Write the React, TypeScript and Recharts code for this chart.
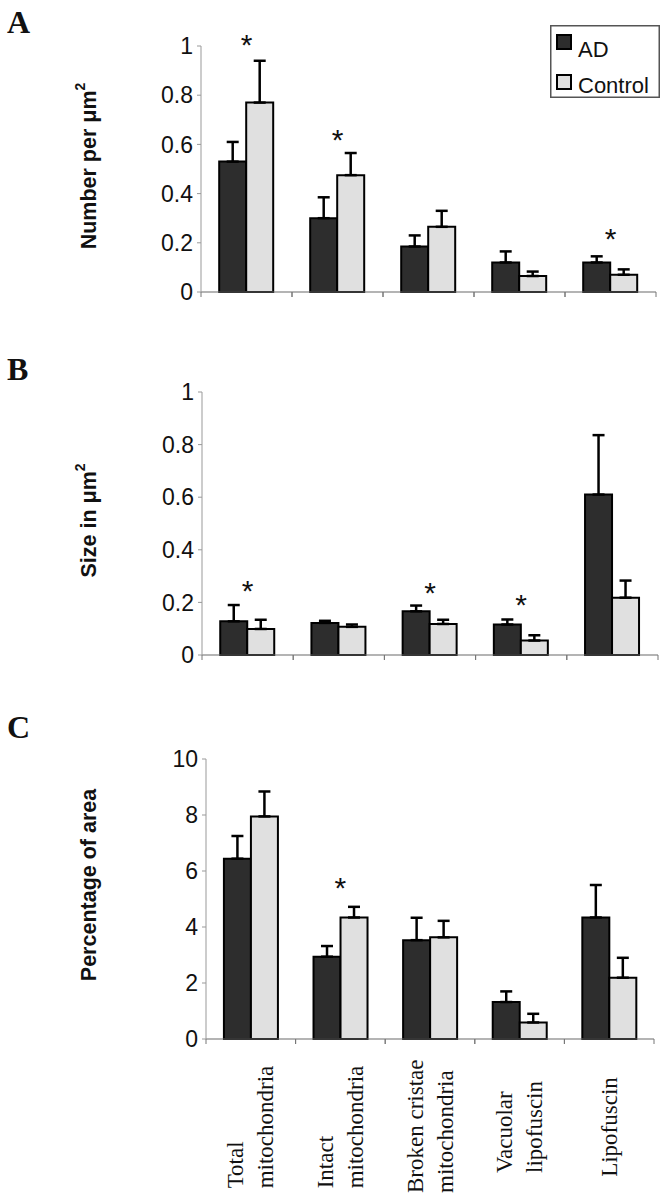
import React from 'react';
import { BarChart, Bar, XAxis, YAxis, ErrorBar, ReferenceDot, Legend } from 'recharts';

// ---------- data ----------
const categories = [
  'Total mitochondria',
  'Intact mitochondria',
  'Broken cristae mitochondria',
  'Vacuolar lipofuscin',
  'Lipofuscin',
];
const categoryLines = [
  ['Total', 'mitochondria'],
  ['Intact', 'mitochondria'],
  ['Broken cristae', 'mitochondria'],
  ['Vacuolar', 'lipofuscin'],
  ['Lipofuscin'],
];

// A: number per µm²
const numberAD = [0.53, 0.3, 0.185, 0.12, 0.12];
const numberADErr = [0.08, 0.085, 0.045, 0.045, 0.025];
const numberCtl = [0.77, 0.475, 0.265, 0.065, 0.07];
const numberCtlErr = [0.17, 0.09, 0.065, 0.018, 0.022];
const numberStars = [1.035, 0.65, null, null, 0.245];
const numberTicks = [0, 0.2, 0.4, 0.6, 0.8, 1];

// B: size in µm²
const sizeAD = [0.128, 0.122, 0.166, 0.116, 0.61];
const sizeADErr = [0.062, 0.008, 0.022, 0.019, 0.226];
const sizeCtl = [0.099, 0.107, 0.118, 0.055, 0.218];
const sizeCtlErr = [0.035, 0.009, 0.016, 0.02, 0.065];
const sizeStars = [0.27, null, 0.262, 0.217, null];
const sizeTicks = [0, 0.2, 0.4, 0.6, 0.8, 1];

// C: percentage of area
const areaAD = [6.44, 2.94, 3.53, 1.32, 4.34];
const areaADErr = [0.81, 0.38, 0.8, 0.38, 1.16];
const areaCtl = [7.95, 4.34, 3.63, 0.59, 2.19];
const areaCtlErr = [0.89, 0.38, 0.59, 0.31, 0.71];
const areaStars = [null, 5.67, null, null, null];
const areaTicks = [0, 2, 4, 6, 8, 10];

const seriesNames = ['AD', 'Control'];

// ---------- styles ----------
const AD_FILL = '#2d2d2d';
const CTL_FILL = '#e0e0e0';
const SANS = '"Liberation Sans", Arial, sans-serif';
const SERIF = '"Liberation Serif", "Times New Roman", serif';
const W = 666;

function buildRows(ad: number[], adErr: number[], ctl: number[], ctlErr: number[], stars: (number | null)[]) {
  return categories.map((name, i) => ({
    name,
    ad: ad[i],
    adErr: [0, adErr[i]],
    ctl: ctl[i],
    ctlErr: [0, ctlErr[i]],
    star: stars[i],
  }));
}

const rowsA = buildRows(numberAD, numberADErr, numberCtl, numberCtlErr, numberStars);
const rowsB = buildRows(sizeAD, sizeADErr, sizeCtl, sizeCtlErr, sizeStars);
const rowsC = buildRows(areaAD, areaADErr, areaCtl, areaCtlErr, areaStars);

let measureCtx: any = null;
function textWidth(s: string, font: string, fallbackSize: number) {
  try {
    if (!measureCtx) measureCtx = document.createElement('canvas').getContext('2d');
    measureCtx.font = font;
    return measureCtx.measureText(s).width;
  } catch (e) {
    return s.length * fallbackSize * 0.45;
  }
}

function CategoryTick(props: any) {
  const { x, y, payload, index, showLabels, fallbackHalf } = props;
  const half = payload && typeof payload.offset === 'number' && payload.offset > 3 ? payload.offset : fallbackHalf;
  const lines = categoryLines[index] || [];
  const fs = 23;
  const font = `${fs}px "Liberation Serif"`;
  const maxW = Math.max(0, ...lines.map((l) => textWidth(l, font, fs)));
  const centerY = y + 88;
  const startY = Math.min(y + 154, centerY + maxW / 2);
  const spacing = 30;
  return (
    <g>
      <line x1={x - half} x2={x - half} y1={y} y2={y + 5} stroke="#777" strokeWidth={1} />
      <line x1={x + half} x2={x + half} y1={y} y2={y + 5} stroke="#777" strokeWidth={1} />
      {showLabels &&
        lines.map((l, i) => {
          const lx = x + (i - (lines.length - 1) / 2) * spacing;
          return (
            <text
              key={i}
              x={0}
              y={0}
              transform={`translate(${lx}, ${startY}) rotate(-90)`}
              textAnchor="start"
              dominantBaseline="central"
              fontFamily={SERIF}
              fontSize={fs}
              fill="#111"
            >
              {l}
            </text>
          );
        })}
    </g>
  );
}

function makeYLabel(main: string, sup: string | null, shift: number) {
  return (props: any) => {
    const vb = props.viewBox || { x: 0, y: 0, width: 0, height: 0 };
    const cx = vb.x + 89;
    const cy = vb.y + vb.height / 2 + shift;
    return (
      <text
        x={cx}
        y={cy}
        transform={`rotate(-90 ${cx} ${cy})`}
        textAnchor="middle"
        dominantBaseline="central"
        fontFamily={SANS}
        fontWeight="bold"
        fontSize={21.5}
        fill="#111"
      >
        {main}
        {sup ? (
          <tspan dy={-9} fontSize={14}>
            {sup}
          </tspan>
        ) : null}
      </text>
    );
  };
}

function StarShape(props: any) {
  const { cx, cy } = props;
  const fs = 30;
  return (
    <text x={cx} y={cy + 0.58 * fs} textAnchor="middle" fontFamily={SANS} fontSize={fs} fill="#111">
      *
    </text>
  );
}

function LegendBox(props: any) {
  const payload = props.payload || [];
  const rows = seriesNames.map((n, i) => {
    const p = payload.find((e: any) => e.value === n);
    return { name: n, color: p ? p.color : i === 0 ? AD_FILL : CTL_FILL };
  });
  return (
    <svg width={110} height={73} style={{ display: 'block' }}>
      <rect x={0.75} y={0.75} width={108.5} height={71.5} fill="#fff" stroke="#555" strokeWidth={1.5} />
      {rows.map((r, i) => (
        <g key={r.name}>
          <rect x={7} y={i === 0 ? 10 : 50} width={14} height={14} fill={r.color} stroke="#000" strokeWidth={2} />
          <text x={28} y={i === 0 ? 31.5 : 68} fontFamily={SANS} fontSize={22} fill="#111">
            {r.name}
          </text>
        </g>
      ))}
    </svg>
  );
}

interface PanelProps {
  rows: any[];
  width: number;
  height: number;
  margin: { top: number; right: number; bottom: number; left: number };
  yWidth: number;
  yDomain: [number, number];
  yTicks: number[];
  xHeight: number;
  showLabels: boolean;
  yLabel: any;
  legend?: boolean;
}

function Panel(p: PanelProps) {
  const plotW = p.width - p.margin.left - p.margin.right - p.yWidth;
  const fallbackHalf = plotW / categories.length / 2;
  return (
    <BarChart
      width={p.width}
      height={p.height}
      data={p.rows}
      margin={p.margin}
      barCategoryGap="20%"
      barGap={0}
    >
      <XAxis
        dataKey="name"
        type="category"
        interval={0}
        height={p.xHeight}
        tickSize={0}
        tickMargin={0}
        tickLine={false}
        axisLine={{ stroke: '#6a6a6a', strokeWidth: 1.2 }}
        tick={(tp: any) => <CategoryTick {...tp} showLabels={p.showLabels} fallbackHalf={fallbackHalf} />}
      />
      <YAxis
        type="number"
        domain={p.yDomain}
        ticks={p.yTicks}
        interval={0}
        width={p.yWidth}
        tickSize={4}
        tickMargin={4}
        axisLine={{ stroke: '#999', strokeWidth: 1 }}
        tickLine={{ stroke: '#999', strokeWidth: 1 }}
        tick={{ fontFamily: SANS, fontSize: 23, fill: '#111' }}
        tickFormatter={(v: number) => String(v)}
        label={p.yLabel}
      />
      {p.legend && (
        <Legend
          layout="horizontal"
          verticalAlign="middle"
          align="center"
          wrapperStyle={{ left: 550, top: 25, width: 'auto', height: 'auto' }}
          content={(lp: any) => <LegendBox {...lp} />}
        />
      )}
      <Bar dataKey="ad" name={seriesNames[0]} fill={AD_FILL} stroke="#000" strokeWidth={2} isAnimationActive={false}>
        <ErrorBar dataKey="adErr" width={6} strokeWidth={2.5} stroke="#000" direction="y" />
      </Bar>
      <Bar dataKey="ctl" name={seriesNames[1]} fill={CTL_FILL} stroke="#000" strokeWidth={2} isAnimationActive={false}>
        <ErrorBar dataKey="ctlErr" width={6} strokeWidth={2.5} stroke="#000" direction="y" />
      </Bar>
      {p.rows
        .filter((r) => r.star !== null && r.star !== undefined)
        .map((r) => (
          <ReferenceDot
            key={r.name}
            x={r.name}
            y={r.star}
            r={0}
            ifOverflow="visible"
            shape={(sp: any) => <StarShape {...sp} />}
          />
        ))}
    </BarChart>
  );
}

export default function App() {
  return (
    <div
      style={{
        position: 'absolute',
        left: 0,
        top: 0,
        width: W,
        height: 1199,
        background: '#fff',
        overflow: 'hidden',
      }}
    >
      <div style={{ position: 'absolute', left: 0, top: 0 }}>
        <Panel
          rows={rowsA}
          width={W}
          height={310}
          margin={{ top: 46, right: 10, bottom: 14, left: 0 }}
          yWidth={201}
          yDomain={[0, 1]}
          yTicks={numberTicks}
          xHeight={4}
          showLabels={false}
          yLabel={makeYLabel('Number per \u03BCm', '2', -3)}
          legend
        />
      </div>
      <div style={{ position: 'absolute', left: 0, top: 330 }}>
        <Panel
          rows={rowsB}
          width={W}
          height={340}
          margin={{ top: 62, right: 8, bottom: 11, left: 0 }}
          yWidth={202}
          yDomain={[0, 1]}
          yTicks={sizeTicks}
          xHeight={4}
          showLabels={false}
          yLabel={makeYLabel('Size in \u03BCm', '2', -3)}
        />
      </div>
      <div style={{ position: 'absolute', left: 0, top: 700 }}>
        <Panel
          rows={rowsC}
          width={W}
          height={499}
          margin={{ top: 59, right: 12, bottom: 5, left: 0 }}
          yWidth={206}
          yDomain={[0, 10]}
          yTicks={areaTicks}
          xHeight={155}
          showLabels
          yLabel={makeYLabel('Percentage of area', null, -14)}
        />
      </div>
      <svg
        width={W}
        height={1199}
        style={{ position: 'absolute', left: 0, top: 0, pointerEvents: 'none' }}
      >
        <text x={7} y={33} fontFamily={SERIF} fontWeight="bold" fontSize={32} fill="#111">A</text>
        <text x={7} y={380} fontFamily={SERIF} fontWeight="bold" fontSize={32} fill="#111">B</text>
        <text x={7} y={738} fontFamily={SERIF} fontWeight="bold" fontSize={32} fill="#111">C</text>
      </svg>
    </div>
  );
}
